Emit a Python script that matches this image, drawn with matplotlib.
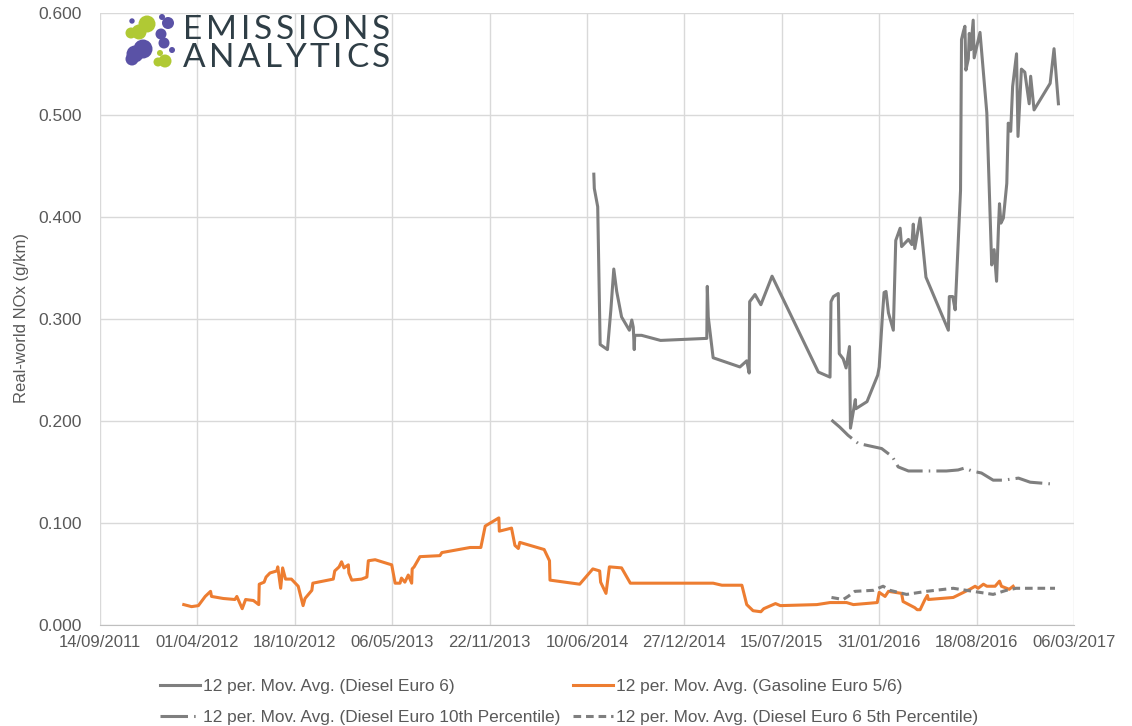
import pandas as pd
import matplotlib
matplotlib.use('Agg')
import matplotlib.pyplot as plt
import matplotlib.dates as mdates
from matplotlib.patches import Circle

plt.rcParams['font.family'] = ['Liberation Sans', 'DejaVu Sans']

# 12 per. moving average, Diesel Euro 6
diesel_dates = ['2014-06-24', '2014-06-25', '2014-07-02', '2014-07-07', '2014-07-22', '2014-07-29',
                '2014-08-04', '2014-08-10', '2014-08-20', '2014-09-05', '2014-09-10', '2014-09-13',
                '2014-09-15', '2014-09-16', '2014-09-30', '2014-11-08', '2015-02-11', '2015-02-12',
                '2015-02-14', '2015-02-24', '2015-04-20', '2015-05-04', '2015-05-09', '2015-05-10',
                '2015-05-21', '2015-06-02', '2015-06-25', '2015-09-28', '2015-10-22', '2015-10-24',
                '2015-10-29', '2015-11-08', '2015-11-10', '2015-11-18', '2015-11-24', '2015-12-01',
                '2015-12-03', '2015-12-13', '2015-12-14', '2016-01-06', '2016-01-28', '2016-01-31',
                '2016-02-07', '2016-02-10', '2016-02-14', '2016-02-19', '2016-02-29', '2016-03-05',
                '2016-03-14', '2016-03-17', '2016-03-31', '2016-04-07', '2016-04-10', '2016-04-13',
                '2016-04-24', '2016-05-06', '2016-06-21', '2016-06-23', '2016-06-30', '2016-07-05',
                '2016-07-16', '2016-07-18', '2016-07-22', '2016-07-25', '2016-07-27', '2016-08-01',
                '2016-08-03', '2016-08-06', '2016-08-11', '2016-08-13', '2016-08-25', '2016-09-08',
                '2016-09-18', '2016-09-23', '2016-09-28', '2016-10-02', '2016-10-04', '2016-10-07',
                '2016-10-12', '2016-10-19', '2016-10-22', '2016-10-27', '2016-10-31', '2016-11-08',
                '2016-11-11', '2016-11-18', '2016-11-25', '2016-12-04', '2016-12-07', '2016-12-14',
                '2017-01-16', '2017-01-24', '2017-02-02']
diesel_nox = [0.442, 0.428, 0.410, 0.275, 0.270, 0.309,
              0.349, 0.327, 0.302, 0.289, 0.299, 0.292,
              0.270, 0.284, 0.284, 0.279, 0.281, 0.332,
              0.302, 0.262, 0.253, 0.259, 0.247, 0.317,
              0.324, 0.314, 0.342, 0.248, 0.243, 0.317,
              0.322, 0.325, 0.266, 0.261, 0.252, 0.273,
              0.193, 0.221, 0.212, 0.219, 0.245, 0.253,
              0.306, 0.326, 0.327, 0.306, 0.289, 0.377,
              0.389, 0.371, 0.378, 0.373, 0.393, 0.369,
              0.399, 0.341, 0.289, 0.322, 0.322, 0.309,
              0.426, 0.574, 0.582, 0.587, 0.544, 0.555,
              0.580, 0.564, 0.593, 0.556, 0.581, 0.502,
              0.353, 0.368, 0.337, 0.391, 0.413, 0.394,
              0.399, 0.433, 0.492, 0.484, 0.528, 0.560,
              0.479, 0.545, 0.542, 0.511, 0.538, 0.505,
              0.531, 0.565, 0.511]

# 12 per. moving average, Gasoline Euro 5/6
gasoline_dates = ['2012-03-04', '2012-03-20', '2012-04-03', '2012-04-17', '2012-04-28', '2012-04-30',
                  '2012-05-24', '2012-06-17', '2012-06-21', '2012-07-02', '2012-07-09', '2012-07-25',
                  '2012-08-05', '2012-08-06', '2012-08-16', '2012-08-20', '2012-08-28', '2012-09-11',
                  '2012-09-13', '2012-09-19', '2012-09-23', '2012-09-29', '2012-10-11', '2012-10-25',
                  '2012-11-04', '2012-11-08', '2012-11-22', '2012-11-24', '2013-01-05', '2013-01-08',
                  '2013-01-17', '2013-01-22', '2013-01-27', '2013-02-05', '2013-02-06', '2013-02-12',
                  '2013-03-04', '2013-03-15', '2013-03-18', '2013-04-01', '2013-04-28', '2013-05-05',
                  '2013-05-12', '2013-05-22', '2013-05-25', '2013-06-01', '2013-06-08', '2013-06-15',
                  '2013-06-16', '2013-06-20', '2013-07-02', '2013-08-12', '2013-08-16', '2013-10-13',
                  '2013-11-04', '2013-11-13', '2013-12-11', '2013-12-12', '2014-01-06', '2014-01-13',
                  '2014-01-20', '2014-01-23', '2014-03-14', '2014-03-25', '2014-03-26', '2014-05-26',
                  '2014-06-22', '2014-07-06', '2014-07-08', '2014-07-19', '2014-07-26', '2014-08-20',
                  '2014-09-07', '2015-02-24', '2015-03-14', '2015-04-24', '2015-05-04', '2015-05-17',
                  '2015-06-02', '2015-06-08', '2015-07-02', '2015-07-12', '2015-09-25', '2015-10-22',
                  '2015-11-25', '2015-12-09', '2016-01-27', '2016-01-31', '2016-02-12', '2016-02-19',
                  '2016-03-17', '2016-03-20', '2016-04-13', '2016-04-18', '2016-04-24', '2016-05-04',
                  '2016-05-09', '2016-05-11', '2016-07-01', '2016-08-04', '2016-08-15', '2016-08-21',
                  '2016-09-01', '2016-09-08', '2016-09-25', '2016-10-04', '2016-10-08', '2016-10-24',
                  '2016-11-01']
gasoline_nox = [0.020, 0.018, 0.019, 0.028, 0.033, 0.028,
                0.026, 0.025, 0.028, 0.016, 0.025, 0.024,
                0.020, 0.040, 0.042, 0.047, 0.051, 0.053,
                0.057, 0.036, 0.056, 0.045, 0.045, 0.038,
                0.019, 0.026, 0.034, 0.041, 0.045, 0.053,
                0.057, 0.062, 0.056, 0.059, 0.051, 0.044,
                0.045, 0.047, 0.063, 0.064, 0.060, 0.059,
                0.041, 0.041, 0.046, 0.042, 0.049, 0.041,
                0.055, 0.057, 0.067, 0.068, 0.071, 0.076,
                0.076, 0.097, 0.105, 0.092, 0.095, 0.078,
                0.075, 0.081, 0.074, 0.063, 0.044, 0.040,
                0.055, 0.053, 0.042, 0.031, 0.057, 0.056,
                0.041, 0.041, 0.039, 0.039, 0.020, 0.014,
                0.013, 0.016, 0.021, 0.019, 0.020, 0.022,
                0.022, 0.020, 0.022, 0.032, 0.028, 0.033,
                0.031, 0.023, 0.017, 0.015, 0.015, 0.025,
                0.029, 0.025, 0.027, 0.035, 0.038, 0.036,
                0.040, 0.038, 0.038, 0.043, 0.038, 0.035,
                0.038]

# 12 per. moving average, Diesel Euro 10th percentile
p10_dates = ['2015-10-25', '2015-11-11', '2015-11-28', '2015-12-19', '2016-02-05', '2016-02-27',
             '2016-03-10', '2016-03-31', '2016-06-17', '2016-07-11', '2016-07-25', '2016-08-08',
             '2016-08-28', '2016-09-21', '2016-10-12', '2016-11-12', '2016-12-06', '2017-01-26']
p10_nox = [0.201, 0.194, 0.186, 0.178, 0.173, 0.165,
           0.155, 0.151, 0.151, 0.152, 0.154, 0.151,
           0.149, 0.142, 0.142, 0.144, 0.140, 0.138]

# 12 per. moving average, Diesel Euro 6 5th percentile
p5_dates = ['2015-10-25', '2015-11-18', '2015-11-28', '2015-12-12', '2016-01-19', '2016-02-08',
            '2016-02-22', '2016-03-27', '2016-05-07', '2016-07-01', '2016-07-28', '2016-09-21',
            '2016-10-18', '2016-11-07', '2017-01-26']
p5_nox = [0.027, 0.025, 0.028, 0.033, 0.034, 0.038,
          0.034, 0.030, 0.033, 0.036, 0.034, 0.030,
          0.034, 0.036, 0.036]

GREY = '#7f7f7f'
ORANGE = '#ed7d31'
TXT = '#595959'
W, H = 1132, 726

fig = plt.figure(figsize=(W / 100, H / 100), dpi=100)
ax = fig.add_axes([100 / W, 1 - 625 / H, 974 / W, 612 / H])

h1, = ax.plot(pd.to_datetime(diesel_dates), diesel_nox, color=GREY, lw=2.2,
              solid_joinstyle='round', label='12 per. Mov. Avg. (Diesel Euro 6)')
h2, = ax.plot(pd.to_datetime(gasoline_dates), gasoline_nox, color=ORANGE, lw=2.2,
              solid_joinstyle='round', label='12 per. Mov. Avg. (Gasoline Euro 5/6)')
h3, = ax.plot(pd.to_datetime(p10_dates), p10_nox, color=GREY, lw=2.2, dashes=(9, 2, 0.5, 2),
              label='12 per. Mov. Avg. (Diesel Euro 10th Percentile)')
h4, = ax.plot(pd.to_datetime(p5_dates), p5_nox, color=GREY, lw=2.2, dashes=(2.5, 1.6),
              label='12 per. Mov. Avg. (Diesel Euro 6 5th Percentile)')

ticks = pd.date_range('2011-09-14', '2017-03-06', freq='200D')
ax.set_xlim(ticks[0], ticks[-1])
ax.set_xticks(ticks)
ax.xaxis.set_major_formatter(mdates.DateFormatter('%d/%m/%Y'))
ax.set_ylim(0, 0.6)
ax.set_yticks([0, 0.1, 0.2, 0.3, 0.4, 0.5, 0.6])
ax.set_yticklabels(['%.3f' % v for v in ax.get_yticks()])
ax.grid(True, color='#d9d9d9', lw=1)
ax.set_axisbelow(True)
for s in ['top', 'right', 'left']:
    ax.spines[s].set_visible(False)
ax.spines['bottom'].set_color('#bfbfbf')
ax.tick_params(length=0, labelcolor=TXT)
ax.tick_params(axis='y', labelsize=12.5, pad=13)
ax.tick_params(axis='x', labelsize=12, pad=7)

fig.text(22 / W, 1 - 318 / H, 'Real-world NOx (g/km)', rotation=90,
         ha='center', va='center', fontsize=12, color=TXT)

fig.legend([h1, h3, h2, h4], [h.get_label() for h in [h1, h3, h2, h4]],
           ncol=2, loc='upper left', bbox_to_anchor=(160 / W, 1 - 679 / H),
           frameon=False, fontsize=12.4, handlelength=2.3, handletextpad=0.2,
           columnspacing=0.75, labelspacing=0.95, borderpad=0, borderaxespad=0,
           labelcolor=TXT)

# logo
lax = fig.add_axes([120 / W, 1 - 75 / H, 70 / W, 65 / H])
lax.set_xlim(120, 190)
lax.set_ylim(75, 10)
lax.set_aspect('equal')
lax.axis('off')
green = '#b0c934'
purple = '#5a52a6'
for (cx, cy, r, c) in [(147, 24, 8.5, green), (139, 32, 7.5, green), (131, 33, 5.5, green),
                       (132, 21, 2.7, purple), (168, 23, 6, purple), (162, 17, 3, purple),
                       (161, 34, 5.5, purple), (164, 43, 5.5, purple), (143, 49, 9.5, purple),
                       (135, 54, 8.5, purple), (132, 59, 6.5, purple), (160, 53, 3, green),
                       (165, 61, 6.5, green), (158, 62, 4.5, green), (172, 50, 3, purple)]:
    lax.add_patch(Circle((cx, cy), r, color=c, lw=0))

# letter-spaced logo words
renderer = fig.canvas.get_renderer()
for word, base in [('EMISSIONS', 39), ('ANALYTICS', 67)]:
    chars = [fig.text(0, 1 - base / H, ch, fontsize=24, color='#2f3e46', va='baseline',
                      ha='left', family=['Lato', 'DejaVu Sans']) for ch in word]
    widths = [t.get_window_extent(renderer).width for t in chars]
    track = (207 - sum(widths)) / (len(word) - 1)
    x = 183
    for t, w in zip(chars, widths):
        t.set_x(x / W)
        x += w + track

fig.savefig('out.png', dpi=100)
